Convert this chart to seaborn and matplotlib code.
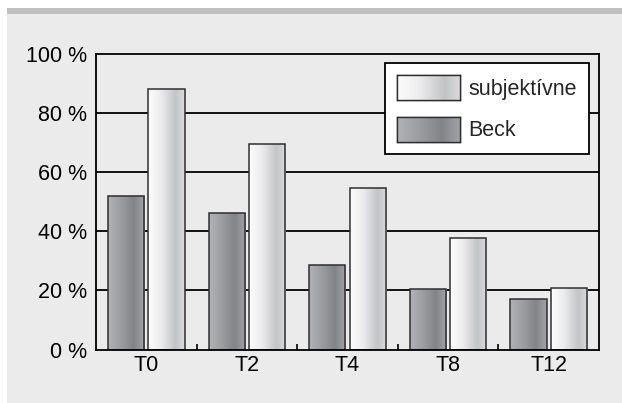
import numpy as np
import pandas as pd
import matplotlib
matplotlib.use("Agg")
import matplotlib.pyplot as plt
from matplotlib.patches import Rectangle
from matplotlib.colors import LinearSegmentedColormap
import seaborn as sns

categories = ["T0", "T2", "T4", "T8", "T12"]
beck = [52, 46, 28.5, 20.3, 17.1]
subjektivne = [88, 69.4, 54.4, 37.6, 20.7]
series_names = ["Beck", "subjektívne"]
ytick_vals = [0, 20, 40, 60, 80, 100]
ytick_labels = [f"{v} %" for v in ytick_vals]

df = pd.DataFrame({
    "time": categories * 2,
    "value": beck + subjektivne,
    "series": [series_names[0]] * len(categories) + [series_names[1]] * len(categories),
})

sns.set_theme(style="white")
FONT = ["Liberation Sans", "DejaVu Sans"]
plt.rcParams["font.family"] = FONT

W, H = 622, 403
fig = plt.figure(figsize=(W / 100, H / 100), dpi=100, facecolor="white")

# background panels
fig.patches.append(Rectangle((7 / W, 0), 1, (H - 14) / H, transform=fig.transFigure,
                             facecolor="#ebebeb", edgecolor="none", zorder=-10))
fig.patches.append(Rectangle((7 / W, (H - 14) / H), 1, 6 / H, transform=fig.transFigure,
                             facecolor="#c0c0c0", edgecolor="none", zorder=-10))

ax = fig.add_axes([96 / W, (H - 349.5) / H, (599 - 96) / W, (349.5 - 53.5) / H])
ax.set_facecolor("#ebebeb")

sns.barplot(data=df, x="time", y="value", hue="series", hue_order=series_names,
            order=categories, width=0.8, gap=0.1, ax=ax, legend=False,
            palette=["#95969a", "#e6e6e8"], saturation=1, errorbar=None)

cmap_beck = LinearSegmentedColormap.from_list(
    "beck", [(0, "#b2b3b7"), (0.35, "#9c9da1"), (0.7, "#838488"), (1, "#a3a4a8")])
cmap_subj = LinearSegmentedColormap.from_list(
    "subj", [(0, "#fdfdfd"), (0.35, "#ececee"), (0.75, "#c3c4c6"), (1, "#dcdcde")])
grad = np.linspace(0, 1, 256).reshape(1, -1)

n = len(categories)
for i, p in enumerate(ax.patches):
    cmap = cmap_beck if i < n else cmap_subj
    x0, y0 = p.get_x(), p.get_y()
    w, h = p.get_width(), p.get_height()
    im = ax.imshow(grad, cmap=cmap, extent=[x0, x0 + w, y0, y0 + h],
                   aspect="auto", zorder=2.5, interpolation="bilinear")
    im.set_clip_path(p)
    p.set_edgecolor("#2e2e2e")
    p.set_linewidth(1.1)
    p.set_facecolor("none")
    p.set_zorder(3)

ax.set_xlim(-0.5, n - 0.5)
ax.set_ylim(0, 100)
ax.set_yticks(ytick_vals)
ax.set_yticklabels(ytick_labels)
ax.set_xticks(range(n))
ax.set_xticklabels(categories)
ax.set_xticks([k + 0.5 for k in range(n - 1)], minor=True)
fs = 15.5
ax.tick_params(axis="y", length=0, pad=6.5, labelsize=fs, labelcolor="black")
ax.tick_params(axis="x", which="major", length=0, pad=4, labelsize=fs, labelcolor="black")
ax.tick_params(axis="x", which="minor", direction="in", length=4.5, width=1.2,
               color="black", bottom=True)
for lab in ax.get_xticklabels() + ax.get_yticklabels():
    lab.set_family(FONT)
ax.set_xlabel("")
ax.set_ylabel("")
for v in ytick_vals[1:-1]:
    ax.axhline(v, color="black", lw=1.3, zorder=1)
for s in ax.spines.values():
    s.set_visible(True)
    s.set_color("black")
    s.set_linewidth(1.3)
    s.set_zorder(4)

# legend
handles = [Rectangle((0, 0), 1, 1, facecolor="#e6e6e8", edgecolor="#2e2e2e", lw=1.0),
           Rectangle((0, 0), 1, 1, facecolor="#95969a", edgecolor="#2e2e2e", lw=1.0)]
leg = ax.legend(handles, [series_names[1], series_names[0]], loc="upper right",
                bbox_to_anchor=((589 - 96) / 503, (349.5 - 63) / 296),
                borderaxespad=0, frameon=True, fancybox=False,
                handlelength=2.95, handleheight=1.45, labelspacing=0.75,
                borderpad=0.55, handletextpad=0.4, prop={"family": FONT, "size": fs})
leg.get_frame().set_edgecolor("black")
leg.get_frame().set_linewidth(1.3)
leg.get_frame().set_facecolor("white")
leg.get_frame().set_alpha(1)
leg.set_zorder(6)

fig.canvas.draw()
renderer = fig.canvas.get_renderer()
for hnd, cmap in zip(leg.legend_handles, [cmap_subj, cmap_beck]):
    bb = hnd.get_window_extent(renderer)
    x0, y0 = bb.x0 / W, bb.y0 / H
    iax = fig.add_axes([x0, y0, bb.width / W, bb.height / H], zorder=10)
    iax.imshow(grad, cmap=cmap, aspect="auto", interpolation="bilinear",
               extent=[0, 1, 0, 1])
    iax.set_xlim(0, 1)
    iax.set_ylim(0, 1)
    iax.set_xticks([])
    iax.set_yticks([])
    for s in iax.spines.values():
        s.set_color("#2e2e2e")
        s.set_linewidth(1.0)

fig.savefig("out.png", dpi=100, facecolor="white")
